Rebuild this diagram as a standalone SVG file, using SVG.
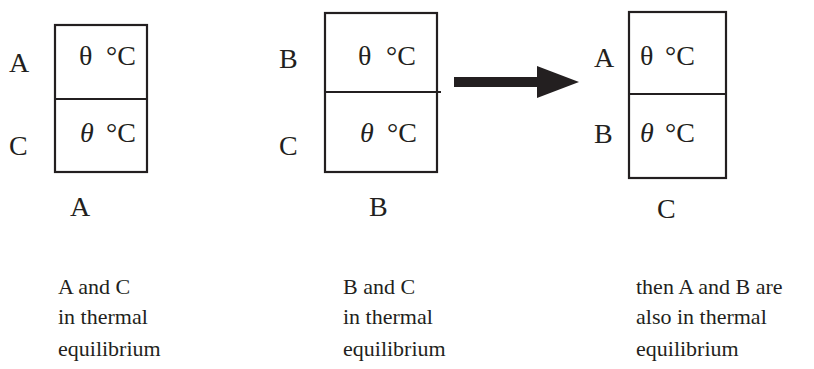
<svg xmlns="http://www.w3.org/2000/svg" width="814" height="369" viewBox="0 0 814 369">
<style>
.box{fill:none;stroke:#231f20;stroke-width:2.2}
.t{font-family:"Liberation Serif","Times New Roman",serif;fill:#231f20}
.lbl{font-size:28px}
.temp{font-size:28px}
.cap{font-size:22px}
.it{font-style:italic}
</style>
<rect width="814" height="369" fill="#ffffff"/>
<g id="nodeA">
<rect class="box" x="55" y="25" width="92" height="147"/>
<line class="box" x1="55" y1="99" x2="147" y2="99"/>
<text class="t temp" y="65"><tspan x="79">θ</tspan><tspan x="106">°C</tspan></text>
<text class="t temp" y="142"><tspan class="it" x="80">θ</tspan><tspan x="106">°C</tspan></text>
<text class="t lbl" x="9" y="72">A</text>
<text class="t lbl" x="9" y="155">C</text>
<text class="t lbl" x="70" y="216">A</text>
</g>
<g id="nodeB">
<rect class="box" x="325" y="13" width="112" height="159"/>
<line class="box" x1="325" y1="92" x2="441" y2="92"/>
<text class="t temp" y="65"><tspan x="358">θ</tspan><tspan x="386">°C</tspan></text>
<text class="t temp" y="142"><tspan class="it" x="360">θ</tspan><tspan x="387">°C</tspan></text>
<text class="t lbl" x="279" y="68">B</text>
<text class="t lbl" x="279" y="155">C</text>
<text class="t lbl" x="369" y="216">B</text>
</g>
<g id="nodeC">
<rect class="box" x="629" y="12" width="97" height="166"/>
<line class="box" x1="629" y1="94" x2="726" y2="94"/>
<text class="t temp" y="65"><tspan x="640">θ</tspan><tspan x="665">°C</tspan></text>
<text class="t temp" y="142"><tspan class="it" x="640">θ</tspan><tspan x="665">°C</tspan></text>
<text class="t lbl" x="594" y="67">A</text>
<text class="t lbl" x="594" y="143">B</text>
<text class="t lbl" x="657" y="218">C</text>
</g>
<g id="connectors">
<polygon fill="#231f20" points="454,77 537,77 537,66 579,82 537,98 537,87 454,87"/>
</g>
<g id="captions">
<text class="t cap" x="58" y="294">A and C</text>
<text class="t cap" x="58" y="324">in thermal</text>
<text class="t cap" x="58" y="356">equilibrium</text>
<text class="t cap" x="343" y="294">B and C</text>
<text class="t cap" x="343" y="324">in thermal</text>
<text class="t cap" x="343" y="356">equilibrium</text>
<text class="t cap" x="636" y="294">then A and B are</text>
<text class="t cap" x="636" y="324">also in thermal</text>
<text class="t cap" x="636" y="356">equilibrium</text>
</g>
</svg>
